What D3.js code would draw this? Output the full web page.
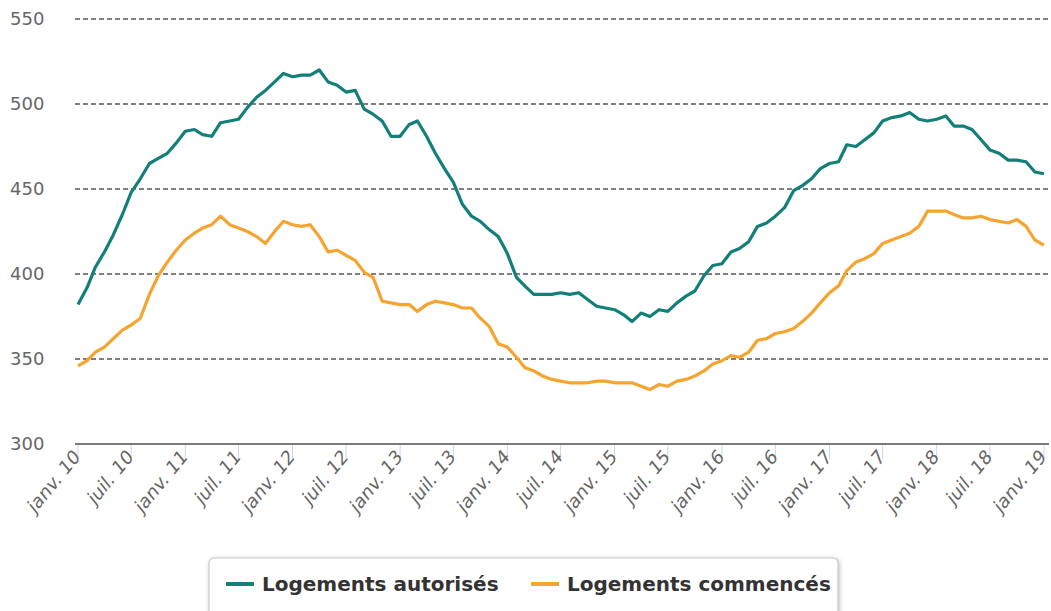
<!doctype html>
<html>
<head>
  <meta charset="utf-8">
  <script src="https://d3js.org/d3.v7.min.js"></script>
  <style>
    body { margin: 0; background: #fff; }
    svg { display: block; font-family: "DejaVu Sans", sans-serif; }
  </style>
</head>
<body>
<div id="viz"></div>
<script>
// monthly series, janv. 2010 -> janv. 2019 (thousands, 12-month rolling)
var startMonth = new Date(2010, 0, 1);

var autorises = [
  382, 392, 404, 413, 423, 435, 448, 456, 465, 468, 471, 477,
  484, 485, 482, 481, 489, 490, 491, 498, 504, 508, 513, 518,
  516, 517, 517, 520, 513, 511, 507, 508, 497, 494, 490, 481,
  481, 488, 490, 481, 471, 462, 454, 441, 434, 431, 426, 422,
  412, 398, 393, 388, 388, 388, 389, 388, 389, 385, 381, 380,
  379, 376, 372, 377, 375, 379, 378, 383, 387, 390, 399, 405,
  406, 413, 415, 419, 428, 430, 434, 439, 449, 452, 456, 462,
  465, 466, 476, 475, 479, 483, 490, 492, 493, 495, 491, 490,
  491, 493, 487, 487, 485, 479, 473, 471, 467, 467, 466, 460,
  459
];

var commences = [
  346, 349, 354, 357, 362, 367, 370, 374, 388, 399, 407, 414,
  420, 424, 427, 429, 434, 429, 427, 425, 422, 418, 425, 431,
  429, 428, 429, 422, 413, 414, 411, 408, 401, 398, 384, 383,
  382, 382, 378, 382, 384, 383, 382, 380, 380, 374, 369, 359,
  357, 351, 345, 343, 340, 338, 337, 336, 336, 336, 337, 337,
  336, 336, 336, 334, 332, 335, 334, 337, 338, 340, 343, 347,
  349, 352, 351, 354, 361, 362, 365, 366, 368, 372, 377, 383,
  389, 393, 402, 407, 409, 412, 418, 420, 422, 424, 428, 437,
  437, 437, 435, 433, 433, 434, 432, 431, 430, 432, 428, 420,
  417
];

var yTicks = [300, 350, 400, 450, 500, 550];
var xTickLabels = [
  "janv. 10", "juil. 10", "janv. 11", "juil. 11", "janv. 12", "juil. 12",
  "janv. 13", "juil. 13", "janv. 14", "juil. 14", "janv. 15", "juil. 15",
  "janv. 16", "juil. 16", "janv. 17", "juil. 17", "janv. 18", "juil. 18",
  "janv. 19"
];
var seriesNames = ["Logements autorisés", "Logements commencés"];
var seriesColors = ["#137f79", "#f5a52f"];

var W = 1051, H = 611;
var svg = d3.select("#viz").append("svg")
  .attr("width", W).attr("height", H);

var x = d3.scaleTime()
  .domain([startMonth, d3.timeMonth.offset(startMonth, 108)])
  .range([78, 1044]);
var y = d3.scaleLinear().domain([300, 550]).range([444, 19]);

// grid lines
svg.append("g").selectAll("line")
  .data(yTicks.slice(1))
  .join("line")
  .attr("x1", 75).attr("x2", 1049)
  .attr("y1", d => y(d)).attr("y2", d => y(d))
  .attr("stroke", "#555").attr("stroke-width", 1.3)
  .attr("stroke-dasharray", "5,3");

// y labels
svg.append("g").selectAll("text")
  .data(yTicks)
  .join("text")
  .attr("x", 10).attr("y", d => y(d) + 6)
  .attr("fill", "#666").attr("font-size", 18)
  .text(d => d);

// x axis
var tickDates = xTickLabels.map((d, i) => d3.timeMonth.offset(startMonth, i * 6));
svg.append("g").selectAll("line")
  .data(tickDates)
  .join("line")
  .attr("x1", d => x(d)).attr("x2", d => x(d))
  .attr("y1", 444).attr("y2", 459)
  .attr("stroke", "#ccd6eb").attr("stroke-width", 1);

svg.append("line")
  .attr("x1", 75).attr("x2", 1049)
  .attr("y1", 444).attr("y2", 444)
  .attr("stroke", "#7a7a7a").attr("stroke-width", 2);

// labels slightly stretched vertically, as in the source picture
svg.append("g").selectAll("text")
  .data(tickDates)
  .join("text")
  .attr("transform", d => "translate(" + (x(d) + 3) + ",458) scale(0.92,1.12) rotate(-45)")
  .attr("text-anchor", "end")
  .attr("fill", "#666").attr("font-size", 18)
  .text((d, i) => xTickLabels[i]);

// lines
var line = d3.line()
  .x((d, i) => x(d3.timeMonth.offset(startMonth, i)))
  .y(d => y(d));

[autorises, commences].forEach(function(s, k) {
  svg.append("path")
    .datum(s)
    .attr("fill", "none")
    .attr("stroke", seriesColors[k])
    .attr("stroke-width", 3.2)
    .attr("stroke-linejoin", "round")
    .attr("d", line);
});

// legend
var lg = svg.append("g");
lg.append("rect")
  .attr("x", 209).attr("y", 558).attr("width", 629).attr("height", 62)
  .attr("rx", 5)
  .attr("fill", "#fff").attr("stroke", "#ccc").attr("stroke-width", 1.2)
  .style("filter", "drop-shadow(1px 1px 2px rgba(0,0,0,0.25))");

var legendX = [222, 527];
seriesNames.forEach(function(n, k) {
  lg.append("line")
    .attr("x1", legendX[k] + 4).attr("x2", legendX[k] + 32)
    .attr("y1", 584).attr("y2", 584)
    .attr("stroke", seriesColors[k]).attr("stroke-width", 4);
  lg.append("text")
    .attr("x", legendX[k] + 40).attr("y", 591)
    .attr("fill", "#333").attr("font-size", 20).attr("font-weight", "bold")
    .text(n);
});
</script>
</body>
</html>
